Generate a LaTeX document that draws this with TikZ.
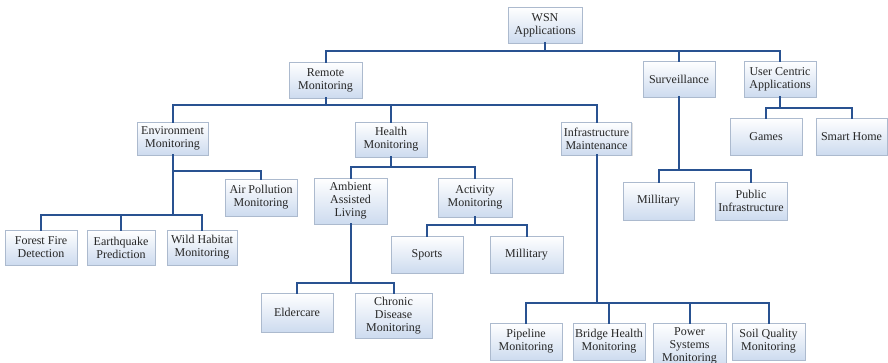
\documentclass[tikz,border=0pt]{standalone}
\usepackage{fontspec}
\setmainfont{Liberation Serif}
\usetikzlibrary{shadows}
\definecolor{linkblue}{RGB}{41,82,145}
\definecolor{boxedge}{RGB}{172,186,206}
\definecolor{boxfill}{RGB}{205,219,239}
\tikzset{
  box/.style={rectangle, draw=boxedge, line width=0.8pt,
    top color=white, bottom color=boxfill,
    drop shadow={shadow xshift=1.2pt, shadow yshift=-1.2pt, opacity=0.25, fill=gray},
    align=center, inner sep=1pt, text=black!85,
    font=\fontsize{12}{13}\selectfont},
  link/.style={draw=linkblue, line width=2pt, line cap=rect}
}
\begin{document}
\begin{tikzpicture}[x=1pt, y=-1pt]
  \fill[white] (0,0) rectangle (888,363);
  \useasboundingbox (0,0) rectangle (888,363);
  \clip (0,0) rectangle (888,363);

  % root and first level
  \node[box, minimum width=74pt, minimum height=36pt] (wsn) at (545,25) {WSN\\Applications};
  \node[box, minimum width=73pt, minimum height=36pt] (remote) at (325.5,80) {Remote\\Monitoring};
  \node[box, minimum width=72pt, minimum height=36pt] (surv) at (679,79) {Surveillance};
  \node[box, minimum width=72pt, minimum height=36pt] (user) at (780,79) {User Centric\\Applications};

  % user centric applications
  \node[box, minimum width=72pt, minimum height=37pt] (games) at (766,136.5) {Games};
  \node[box, minimum width=71pt, minimum height=37pt] (smart) at (851.5,136.5) {Smart Home};

  % surveillance
  \node[box, minimum width=71pt, minimum height=38pt] (mila) at (658.5,201) {Millitary};
  \node[box, minimum width=72pt, minimum height=38pt] (public) at (751,201) {Public\\Infrastructure};

  % remote monitoring
  \node[box, minimum width=71pt, minimum height=33pt] (env) at (172.5,138.5) {Environment\\Monitoring};
  \node[box, minimum width=72pt, minimum height=35pt] (health) at (391,139.5) {Health\\Monitoring};
  \node[box, minimum width=70pt, minimum height=33pt] (infra) at (596.5,138.5) {Infrastructure\\Maintenance};

  % environment monitoring
  \node[box, minimum width=72pt, minimum height=37pt] (air) at (261,197.5) {Air Pollution\\Monitoring};
  \node[box, minimum width=72pt, minimum height=35pt] (forest) at (41,247.5) {Forest Fire\\Detection};
  \node[box, minimum width=68pt, minimum height=35pt] (earth) at (121,247.5) {Earthquake\\Prediction};
  \node[box, minimum width=70pt, minimum height=35pt] (wild) at (202,247.5) {Wild Habitat\\Monitoring};

  % health monitoring
  \node[box, minimum width=73pt, minimum height=46pt] (ambient) at (350.5,201) {Ambient\\Assisted\\Living};
  \node[box, minimum width=74pt, minimum height=39pt] (activity) at (475,197.5) {Activity\\Monitoring};
  \node[box, minimum width=72pt, minimum height=37pt] (sports) at (427,254.5) {Sports};
  \node[box, minimum width=73pt, minimum height=37pt] (milb) at (526.5,254.5) {Millitary};
  \node[box, minimum width=72pt, minimum height=39pt] (elder) at (297,312.5) {Eldercare};
  \node[box, minimum width=77pt, minimum height=45pt] (chronic) at (393.5,315.5) {Chronic\\Disease\\Monitoring};

  % infrastructure maintenance
  \node[box, minimum width=72pt, minimum height=37pt] (pipe) at (526,341.5) {Pipeline\\Monitoring};
  \node[box, minimum width=72pt, minimum height=37pt] (bridge) at (609,341.5) {Bridge Health\\Monitoring};
  \node[box, minimum width=73pt, minimum height=46pt] (power) at (689.5,346) {Power\\Systems\\Monitoring};
  \node[box, minimum width=73pt, minimum height=37pt] (soil) at (768.5,341.5) {Soil Quality\\Monitoring};

  % tree connectors: down from the parent, along a bus, down to each child
  \foreach \c in {remote,surv,user} \draw[link] (wsn.south) -- ++(0,8) -| (\c.north);
  \foreach \c in {env,health,infra} \draw[link] (remote.south) -- ++(0,7) -| (\c.north);
  \foreach \c in {games,smart} \draw[link] (user.south) -- ++(0,11) -| (\c.north);
  \foreach \c in {mila,public} \draw[link] (surv.south) -- ++(0,73) -| (\c.north);
  \draw[link] (env.south) -- ++(0,16) -| (air.north);
  \foreach \c in {forest,earth,wild} \draw[link] (env.south) -- ++(0,60) -| (\c.north);
  \foreach \c in {ambient,activity} \draw[link] (health.south) -- ++(0,10) -| (\c.north);
  \foreach \c in {sports,milb} \draw[link] (activity.south) -- ++(0,8) -| (\c.north);
  \foreach \c in {elder,chronic} \draw[link] (ambient.south) -- ++(0,59) -| (\c.north);
  \foreach \c in {pipe,bridge,power,soil} \draw[link] (infra.south) -- ++(0,148) -| (\c.north);
\end{tikzpicture}
\end{document}
